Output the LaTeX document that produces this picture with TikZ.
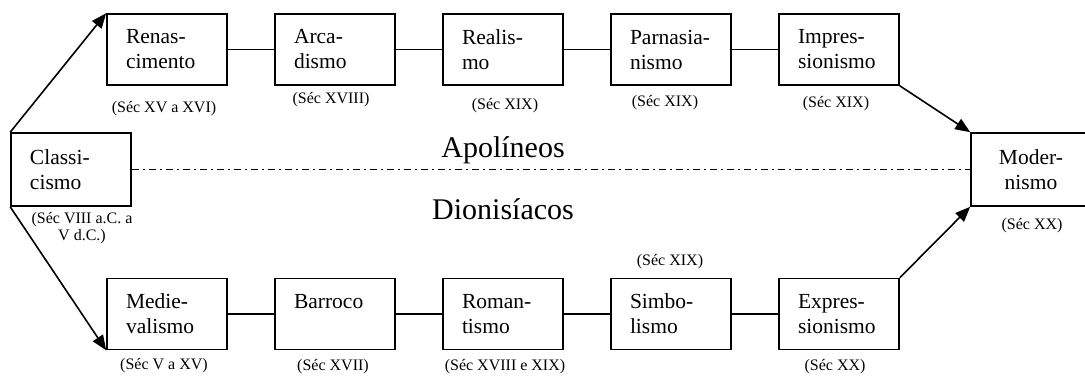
\documentclass[tikz,border=0pt]{standalone}
\usepackage{fontspec}
\setmainfont{Liberation Serif}
\usetikzlibrary{arrows.meta}
\begin{document}
\begin{tikzpicture}[x=1pt,y=-1pt,
  era/.style={draw, line width=1.6pt, minimum width=120pt, minimum height=71pt,
    text width=82pt, inner xsep=19pt, inner ysep=0pt, align=left,
    font=\fontsize{21.5}{25}\selectfont},
  date/.style={font=\fontsize{16}{17.5}\selectfont, inner sep=0pt, align=center},
  link/.style={line width=1.6pt},
  arr/.style={line width=1.6pt, -{Triangle[length=15pt,width=12pt]}},
  axisline/.style={line width=1.5pt, dash pattern=on 7pt off 4pt on 2pt off 4pt},
  big/.style={font=\fontsize{30}{34}\selectfont, inner sep=0pt}]
\useasboundingbox (0,0) rectangle (1085,377);
\clip (0,0) rectangle (1085,377);

% upper chain
\node[era] (ren) at (167,49.5) {Renas-\\cimento};
\node[era] (arc) at (335,49.5) {Arca-\\dismo};
\node[era] (rea) at (503,49.5) {Realis-\\mo};
\node[era] (par) at (671,49.5) {Parnasia-\\nismo};
\node[era] (imp) at (839,49.5) {Impres-\\sionismo};

% lower chain
\node[era] (med) at (167,314) {Medie-\\valismo};
\node[era] (bar) at (335,314) {Barroco\\\phantom{m}};
\node[era] (rom) at (503,314) {Roman-\\tismo};
\node[era] (sim) at (671,314) {Simbo-\\lismo};
\node[era] (exr) at (839,314) {Expres-\\sionismo};

% start and end
\node[era, minimum height=73pt] (cla) at (71,169.5) {Classi-\\cismo};
\node[era, minimum height=73pt, align=center] (mod) at (1031,169.5) {Moder-\\nismo};

% dates
\node[date] (dren) at (164,109) {(Séc XV a XVI)};
\node[date] (darc) at (331,100) {(Séc XVIII)};
\node[date] (drea) at (505,106) {(Séc XIX)};
\node[date] (dpar) at (665,103) {(Séc XIX)};
\node[date] (dimp) at (836,104) {(Séc XIX)};
\node[date] (dmed) at (164,366) {(Séc V a XV)};
\node[date] (dbar) at (333,367) {(Séc XVII)};
\node[date] (drom) at (505,367) {(Séc XVIII e XIX)};
\node[date] (dsim) at (670,262) {(Séc XIX)};
\node[date] (dexr) at (835,367) {(Séc XX)};
\node[date] (dcla) at (82,228) {(Séc VIII a.C. a\\V d.C.)};
\node[date] (dmod) at (1032,226) {(Séc XX)};

% connectors
\draw[link] (ren) -- (arc);
\draw[link] (arc) -- (rea);
\draw[link] (rea) -- (par);
\draw[link] (par) -- (imp);
\draw[link] (med) -- (bar);
\draw[link] (bar) -- (rom);
\draw[link] (rom) -- (sim);
\draw[link] (sim) -- (exr);

\draw[arr] (cla.north west) -- (ren.north west);
\draw[arr] (cla.south west) -- (med.south west);
\draw[arr] (imp.south east) -- (mod.north west);
\draw[arr] (exr.north east) -- (mod.south west);

% dividing line
\draw[axisline] (cla.east) -- (mod.west);
\node[big] (apo) at (503,150) {Apolíneos};
\node[big] (dio) at (503,209.5) {Dionisíacos};
\end{tikzpicture}
\end{document}
